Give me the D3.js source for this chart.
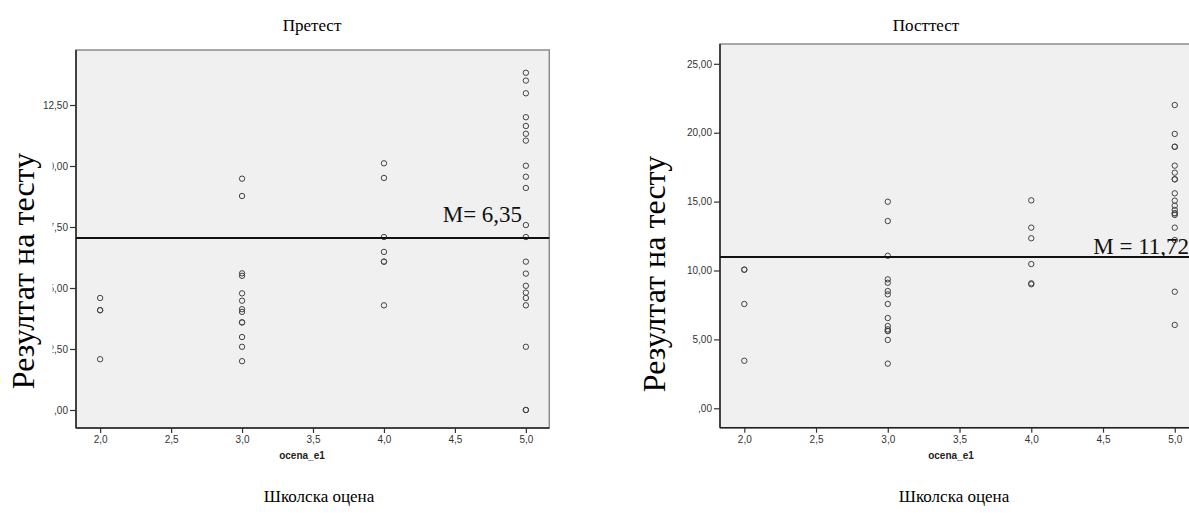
<!DOCTYPE html>
<html>
<head>
<meta charset="utf-8">
<script src="https://cdn.jsdelivr.net/npm/d3@7/dist/d3.min.js"></script>
<style>
	body { margin: 0; background: #fff; }
	svg { display: block; }
</style>
</head>
<body>
<svg id="chart" width="1189" height="517"></svg>
<script>

// school grade on the x axis
var grades = [2, 3, 4, 5];
var gradeTicks = [2, 2.5, 3, 3.5, 4, 4.5, 5];

// pretest scores per grade
var pretestG2 = [4.59, 4.09, 4.09, 2.08];
var pretestG3 = [9.48, 8.77, 5.60, 5.50, 4.78, 4.48, 4.13, 4.02, 3.59, 3.59, 2.99, 2.59, 2.0];
var pretestG4 = [10.11, 9.51, 7.09, 6.48, 6.08, 6.08, 4.29];
var pretestG5 = [13.82, 13.50, 12.98, 12.00, 11.64, 11.32, 11.04, 10.01, 9.56, 9.10, 7.58, 7.09, 6.08, 5.59, 5.09, 4.81, 4.59, 4.29, 2.59, 0, 0];
var pretestTicks = [0, 2.5, 5, 7.5, 10, 12.5];
var pretestMean = 7.05;

// posttest scores per grade
var posttestG2 = [10.06, 10.06, 7.57, 3.45];
var posttestG3 = [14.99, 13.59, 11.07, 9.36, 9.11, 8.51, 8.27, 7.57, 6.55, 5.97, 5.73, 5.61, 5.61, 4.96, 3.24];
var posttestG4 = [15.09, 13.11, 12.34, 10.47, 9.07, 9.0];
var posttestG5 = [22.01, 19.91, 18.98, 18.98, 17.61, 17.10, 16.62, 16.62, 15.60, 15.07, 14.70, 14.39, 14.15, 14.15, 14.03, 13.11, 12.21, 8.46, 6.05];
var posttestTicks = [0, 5, 10, 15, 20, 25];
var posttestMean = 10.98;

var panels = [
	{
		title: "Претест",
		mean: pretestMean,
		meanLabel: "M= 6,35",
		series: [pretestG2, pretestG3, pretestG4, pretestG5],
		yTicks: pretestTicks,
		layout: {
			left: 76, right: 549.3, top: 50, bottom: 428,
			xDomain: [1.83, 5.165], yDomain: [-0.738, 14.754],
			titleX: 312, yTitleX: 34, yTitleY: 271, meanLabelX: 442.7, meanLabelY: 221.7,
			axisTitleX: 302, bottomTitleX: 319, coverTitle: true
		}
	},
	{
		title: "Посттест",
		mean: posttestMean,
		meanLabel: "M = 11,72",
		series: [posttestG2, posttestG3, posttestG4, posttestG5],
		yTicks: posttestTicks,
		layout: {
			left: 720, right: 1199, top: 44, bottom: 427.7,
			xDomain: [1.8307, 5.169], yDomain: [-1.408, 26.437],
			titleX: 926, yTitleX: 665, yTitleY: 274, meanLabelX: 1093.3, meanLabelY: 254,
			axisTitleX: 951, bottomTitleX: 954, coverTitle: false
		}
	}
];

var svg = d3.select("#chart");

// SPSS style numbers: comma decimal, no leading zero for 0
function fmtY(v) {
	var s = d3.format(".2f")(v).replace(".", ",");
	return s.indexOf("0,") === 0 ? s.substring(1) : s;
}
function fmtX(v) {
	return d3.format(".1f")(v).replace(".", ",");
}

function drawPanel(p) {

	var L = p.layout;
	var g = svg.append("g");

	var x = d3.scaleLinear().domain(L.xDomain).range([L.left, L.right]);
	var y = d3.scaleLinear().domain(L.yDomain).range([L.bottom, L.top]);

	// plot background + light frame
	g.append("rect")
		.attr("x", L.left).attr("y", L.top)
		.attr("width", L.right - L.left).attr("height", L.bottom - L.top)
		.attr("fill", "#f0f0f0")
		.attr("stroke", "#8c8c8c")
		.attr("stroke-width", 1.5);

	// axes
	var yAxis = d3.axisLeft(y).tickValues(p.yTicks).tickFormat(fmtY).tickSize(6).tickPadding(2);
	var xAxis = d3.axisBottom(x).tickValues(gradeTicks).tickFormat(fmtX).tickSize(5).tickPadding(3);

	var ya = g.append("g").attr("transform", "translate(" + L.left + ",0)").call(yAxis);
	var xa = g.append("g").attr("transform", "translate(0," + L.bottom + ")").call(xAxis);

	[ya, xa].forEach(function(a) {
		a.select(".domain").attr("stroke", "#222").attr("stroke-width", 1.5);
		a.selectAll(".tick line").attr("stroke", "#333").attr("stroke-width", 1.2);
		a.selectAll(".tick text")
			.attr("fill", "#333")
			.style("font-family", "'Liberation Sans', Arial, sans-serif")
			.style("font-size", "10px");
	});
	ya.select(".domain").attr("d", "M0," + L.top + "V" + L.bottom);
	xa.select(".domain").attr("d", "M" + L.left + ",0H" + L.right);

	// points
	var pts = [];
	p.series.forEach(function(vals, i) {
		vals.forEach(function(v) { pts.push({ grade: grades[i], score: v }); });
	});

	g.append("g").selectAll("circle")
		.data(pts)
		.enter().append("circle")
		.attr("cx", function(d) { return x(d.grade); })
		.attr("cy", function(d) { return y(d.score); })
		.attr("r", 2.7)
		.attr("fill", "none")
		.attr("stroke", "#444")
		.attr("stroke-width", 1);

	// mean line
	g.append("line")
		.attr("x1", x.range()[0]).attr("x2", x.range()[1])
		.attr("y1", y(p.mean)).attr("y2", y(p.mean))
		.attr("stroke", "#111")
		.attr("stroke-width", 2);

	g.append("text")
		.attr("x", L.meanLabelX).attr("y", L.meanLabelY)
		.style("font-family", "'Liberation Serif', 'Times New Roman', serif")
		.style("font-size", "23px")
		.attr("fill", "#111")
		.text(p.meanLabel);

	// axis variable name
	g.append("text")
		.attr("x", L.axisTitleX).attr("y", L.bottom + 31)
		.attr("text-anchor", "middle")
		.style("font-family", "'Liberation Sans', Arial, sans-serif")
		.style("font-size", "10px")
		.style("font-weight", "bold")
		.attr("fill", "#222")
		.text("ocena_e1");

	// titles
	g.append("text")
		.attr("x", L.titleX).attr("y", 31)
		.attr("text-anchor", "middle")
		.style("font-family", "'Liberation Serif', 'Times New Roman', serif")
		.style("font-size", "17px")
		.text(p.title);

	g.append("text")
		.attr("x", L.bottomTitleX).attr("y", 502)
		.attr("text-anchor", "middle")
		.style("font-family", "'Liberation Serif', 'Times New Roman', serif")
		.style("font-size", "17px")
		.text("Школска оцена");

	// the y title sits in a white box that hides part of the tick labels
	if (L.coverTitle) {
		g.append("rect")
			.attr("x", 0).attr("y", 112)
			.attr("width", 52.5).attr("height", 308)
			.attr("fill", "#fff");
	}

	g.append("text")
		.attr("transform", "translate(" + L.yTitleX + "," + L.yTitleY + ") rotate(-90)")
		.attr("text-anchor", "middle")
		.style("font-family", "'Liberation Serif', 'Times New Roman', serif")
		.style("font-size", "32px")
		.text("Резултат на тесту");
}

panels.forEach(drawPanel);

</script>
</body>
</html>
